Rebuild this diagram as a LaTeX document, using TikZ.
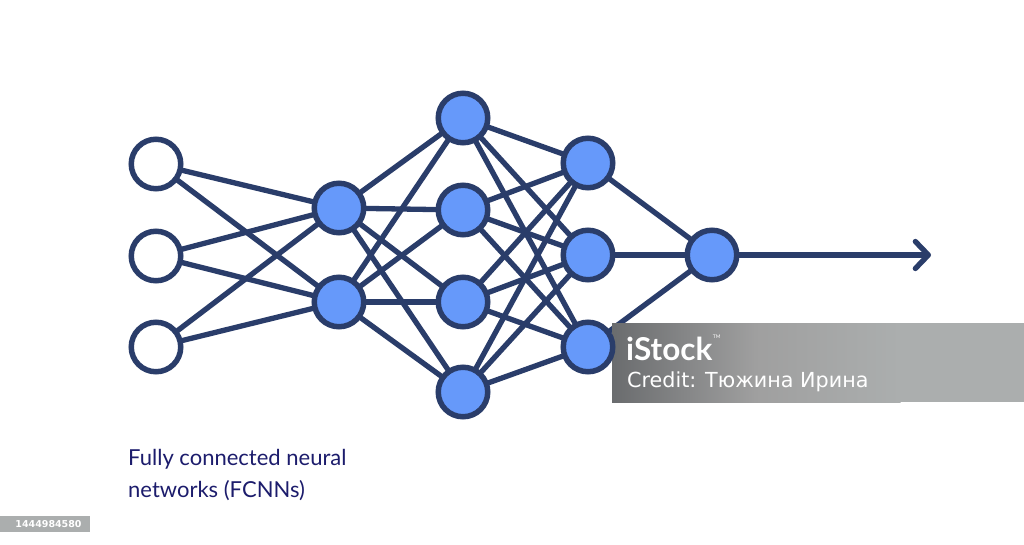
\documentclass[tikz,border=0pt]{standalone}
\usepackage{fontspec}
\setmainfont{Lato}
\newfontfamily\credfont{DejaVu Sans}
\usetikzlibrary{arrows.meta,backgrounds}
\pgfdeclarelayer{paper}
\pgfdeclarelayer{background}
\pgfsetlayers{paper,background,main}
\definecolor{netline}{HTML}{2A3D6A}
\definecolor{netfill}{HTML}{6699FA}
\definecolor{captxt}{HTML}{1C1C6C}
\definecolor{wmgray}{HTML}{ABAEAE}
\definecolor{wmdark}{HTML}{6A6C6E}
\tikzset{
  neuron/.style={circle,draw=netline,line width=5.5pt,minimum size=49.5pt,inner sep=0pt,fill=netfill},
  inneuron/.style={neuron,fill=white},
  link/.style={draw=netline,line width=5.3pt},
  captext/.style={text=captxt,font=\fontsize{22}{32}\selectfont,align=left,inner sep=0pt,anchor=north west},
}
\begin{document}
\begin{tikzpicture}[x=1pt,y=-1pt]
\begin{pgfonlayer}{paper}
\fill[white] (0,0) rectangle (1024,545);
\end{pgfonlayer}
\useasboundingbox (0,0) rectangle (1024,545);
% watermark box (below nodes, above links)
\shade[left color=wmdark,right color=wmgray,middle color=gray!75] (612,323) rectangle (900.5,402);
\fill[wmgray] (900,323) rectangle (1024,402);
% nodes
\node[inneuron] (i1) at (156,164) {};
\node[inneuron] (i2) at (156,256) {};
\node[inneuron] (i3) at (156,347) {};
\node[neuron] (a1) at (339,208) {};
\node[neuron] (a2) at (339,302) {};
\node[neuron] (b1) at (463,118) {};
\node[neuron] (b2) at (463,210) {};
\node[neuron] (b3) at (463,302) {};
\node[neuron] (b4) at (463,392) {};
\node[neuron] (c1) at (588,163) {};
\node[neuron] (c2) at (588,255) {};
\node[neuron] (c3) at (588,347) {};
\node[neuron] (o) at (712,255) {};
\coordinate (out) at (931,255);
\begin{pgfonlayer}{background}
\foreach \s in {i1,i2,i3}{\foreach \t in {a1,a2}{\draw[link] (\s.center) -- (\t.center);}}
\foreach \s in {a1,a2}{\foreach \t in {b1,b2,b3,b4}{\draw[link] (\s.center) -- (\t.center);}}
\foreach \s in {b1,b2,b3,b4}{\foreach \t in {c1,c2,c3}{\draw[link] (\s.center) -- (\t.center);}}
\foreach \s in {c1,c2,c3}{\draw[link] (\s.center) -- (o.center);}
\end{pgfonlayer}
\draw[link,line cap=round,-{Straight Barb[length=13pt,width=27pt,round]}] (o.east) -- (out);
% watermark text
\node[anchor=base west,text=white,inner sep=0pt,font=\fontsize{31.5}{32}\selectfont\bfseries] (ist) at (626,360) {iStock};
\node[anchor=south west,text=white,inner sep=0pt,font=\fontsize{5}{6}\selectfont] (tm) at ([yshift=-2pt]ist.north east) {TM};
\node[anchor=base west,text=white,inner sep=0pt,font=\credfont\fontsize{20.7}{22}\selectfont] (cred) at (627,387) {Credit: Тюжина Ирина};
% caption
\node[captext] (cap) at (128,449) {Fully connected neural\\networks (FCNNs)};
% id label
\fill[wmgray] (0,516) rectangle (90,532);
\node[anchor=center,text=white,inner sep=0pt,font=\credfont\bfseries\fontsize{9.5}{10}\selectfont] (id) at (48.5,524) {1444984580};
\end{tikzpicture}
\end{document}
